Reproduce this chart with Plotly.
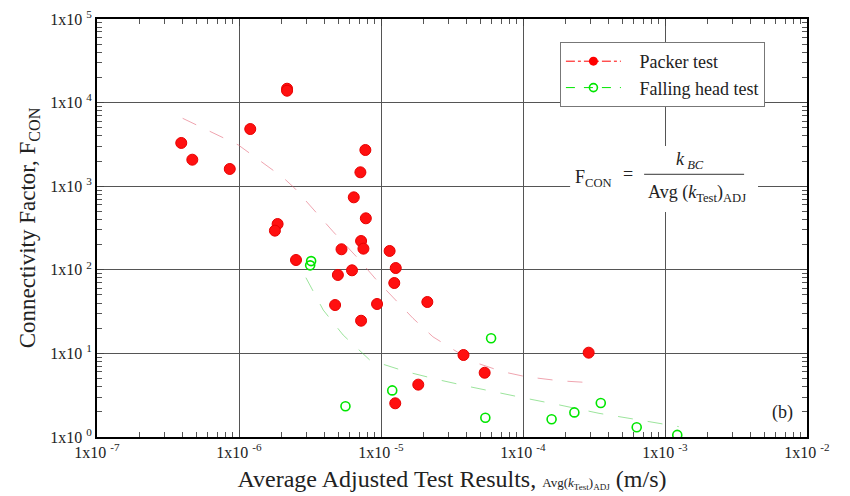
import plotly.graph_objects as go

# Packer test results: average adjusted k (m/s) and connectivity factor
packer_k = [3.92e-7, 4.69e-7, 8.61e-7, 1.20e-6, 2.18e-6, 2.18e-6, 7.76e-6, 7.16e-6,
            6.43e-6, 7.82e-6, 1.87e-6, 1.79e-6, 7.24e-6, 5.27e-6, 7.52e-6, 1.15e-5,
            2.52e-6, 1.27e-5, 6.25e-6, 4.97e-6, 1.24e-5, 4.75e-6, 9.38e-6, 2.12e-5,
            7.24e-6, 3.81e-5, 1.83e-5, 1.26e-5, 5.37e-5, 2.90e-4]
packer_f = [3290, 2075, 1607, 4830, 14660, 13870, 2710, 1466,
            736, 413, 353, 294, 221, 176, 179, 168,
            131, 105, 98.6, 86.7, 69.5, 37.9, 39.0, 41.2,
            24.6, 9.57, 4.23, 2.53, 5.87, 10.2]

# Falling head test results
falling_k = [3.22e-6, 3.17e-6, 1.20e-5, 5.62e-6, 5.96e-5, 5.43e-5,
             1.59e-4, 2.30e-4, 3.53e-4, 6.32e-4, 1.22e-3]
falling_f = [127, 113, 3.61, 2.33, 15.2, 1.70,
             1.63, 1.97, 2.55, 1.31, 1.06]

# Trend curves
packer_fit_k = [4.01e-7, 9.9e-7, 2.05e-6, 2.47e-6, 4.6e-6, 6.7e-6, 9.3e-6, 1.21e-5,
                1.68e-5, 2.32e-5, 3.39e-5, 4.43e-5, 7.19e-5, 1.05e-4, 1.80e-4, 3.01e-4]
packer_fit_f = [6490, 3110, 1265, 944, 286, 144, 75.5, 47.6,
                26.3, 15.8, 10.5, 7.96, 6.04, 5.26, 4.71, 4.46]
falling_fit_k = [2.96e-6, 3.92e-6, 5.41e-6, 8.33e-6, 1.51e-5, 2.58e-5, 4.20e-5,
                 6.11e-5, 1.05e-4, 1.80e-4, 3.43e-4, 6.56e-4, 1.25e-3]
falling_fit_f = [80.5, 33.0, 16.6, 8.34, 6.04, 4.81, 4.00,
                 3.48, 2.90, 2.42, 1.92, 1.60, 1.33]

x_exponents = [-7, -6, -5, -4, -3, -2]
y_exponents = [0, 1, 2, 3, 4, 5]

SERIF = "Liberation Serif, Times New Roman, serif"
INK = "#222"
PAD = "\u00a0\u00a0\u00a0"

fig = go.Figure()

fig.add_trace(go.Scatter(x=packer_fit_k, y=packer_fit_f, mode="lines",
                         line=dict(color="rgba(225,90,110,0.55)", width=1, dash="longdash"),
                         showlegend=False, hoverinfo="skip"))
fig.add_trace(go.Scatter(x=falling_fit_k, y=falling_fit_f, mode="lines",
                         line=dict(color="rgba(90,210,90,0.6)", width=1, dash="longdash"),
                         showlegend=False, hoverinfo="skip"))

fig.add_trace(go.Scatter(x=packer_k, y=packer_f, mode="markers",
                         marker=dict(symbol="circle", size=11, color="#ff1010",
                                     line=dict(color="#e80000", width=1)),
                         showlegend=False))
fig.add_trace(go.Scatter(x=falling_k, y=falling_f, mode="markers",
                         marker=dict(symbol="circle-open", size=9, color="#00e600",
                                     line=dict(width=1.6)),
                         showlegend=False))

# Legend entries
fig.add_trace(go.Scatter(x=[None], y=[None], mode="lines+markers", name=PAD + "Packer test",
                         line=dict(color="#ff0000", width=1, dash="dashdot"),
                         marker=dict(symbol="circle", size=9, color="#ff0000")))
fig.add_trace(go.Scatter(x=[None], y=[None], mode="lines+markers", name=PAD + "Falling head test",
                         line=dict(color="#00e600", width=1, dash="dash"),
                         marker=dict(symbol="circle-open", size=8, color="#00e600",
                                     line=dict(width=1.6))))

axis_common = dict(
    type="log", automargin=False,
    showline=True, linecolor="black", linewidth=2, mirror="ticks",
    ticks="inside", ticklen=7, tickcolor="#444", tickwidth=1,
    showgrid=True, gridcolor="#555", gridwidth=1,
    zeroline=False,
    minor=dict(ticks="inside", ticklen=5, tickcolor="#555", tickwidth=1,
               showgrid=False, dtick="D1"),
    tickfont=dict(family=SERIF, size=16, color=INK),
)

fig.update_xaxes(
    **axis_common,
    range=[-7, -2],
    tickvals=[10.0 ** e for e in x_exponents],
    ticktext=[f"1x10 <sup>{e}</sup>" for e in x_exponents],
    title=dict(text="Average Adjusted Test Results, <span style='font-size:13px'>Avg(<i>k</i><sub>Test</sub>)<sub>ADJ</sub></span> (m/s)",
               font=dict(family=SERIF, size=24, color=INK), standoff=10),
)
fig.update_yaxes(
    **axis_common,
    range=[0, 5],
    tickvals=[10.0 ** e for e in y_exponents],
    ticktext=[f"1x10 <sup>{e}</sup>" for e in y_exponents],
    title=dict(text="Connectivity Factor, F<sub>CON</sub>",
               font=dict(family=SERIF, size=23, color=INK), standoff=8),
)

# Equation box
fig.add_shape(type="rect", xref="paper", yref="paper",
              x0=0.6664, x1=0.9310, y0=0.5383, y1=0.6962,
              fillcolor="white", line=dict(width=0), layer="above")
fig.add_shape(type="line", xref="paper", yref="paper",
              x0=0.7706, x1=0.9114, y0=0.6285, y1=0.6285,
              line=dict(color="#333", width=1), layer="above")

eq_font = dict(family=SERIF, size=18, color=INK)
eq = dict(xref="paper", yref="paper", showarrow=False, xanchor="center", yanchor="middle")
fig.add_annotation(**eq, x=0.6988, y=0.618, text="F<sub>CON</sub>", font=eq_font)
fig.add_annotation(**eq, x=0.748, y=0.628, text="=", font=eq_font)
fig.add_annotation(**eq, x=0.8353, y=0.662, text="<i>k</i><sub><i> BC</i></sub>", font=eq_font)
fig.add_annotation(**eq, x=0.8452, y=0.582,
                   text="Avg (<i>k</i><sub>Test</sub>)<sub>ADJ</sub>", font=eq_font)
fig.add_annotation(**eq, x=0.9648, y=0.0598, text="(b)",
                   font=dict(family=SERIF, size=18, color=INK))

fig.update_layout(
    width=850, height=496,
    margin=dict(l=96.5, r=43, t=19, b=59, autoexpand=False),
    paper_bgcolor="white", plot_bgcolor="white",
    legend=dict(x=0.652, y=0.945, xanchor="left", yanchor="top",
                bgcolor="white", bordercolor="#777", borderwidth=1,
                font=dict(family=SERIF, size=18, color=INK),
                itemwidth=55, tracegroupgap=0),
)

fig.write_html("out.html")
